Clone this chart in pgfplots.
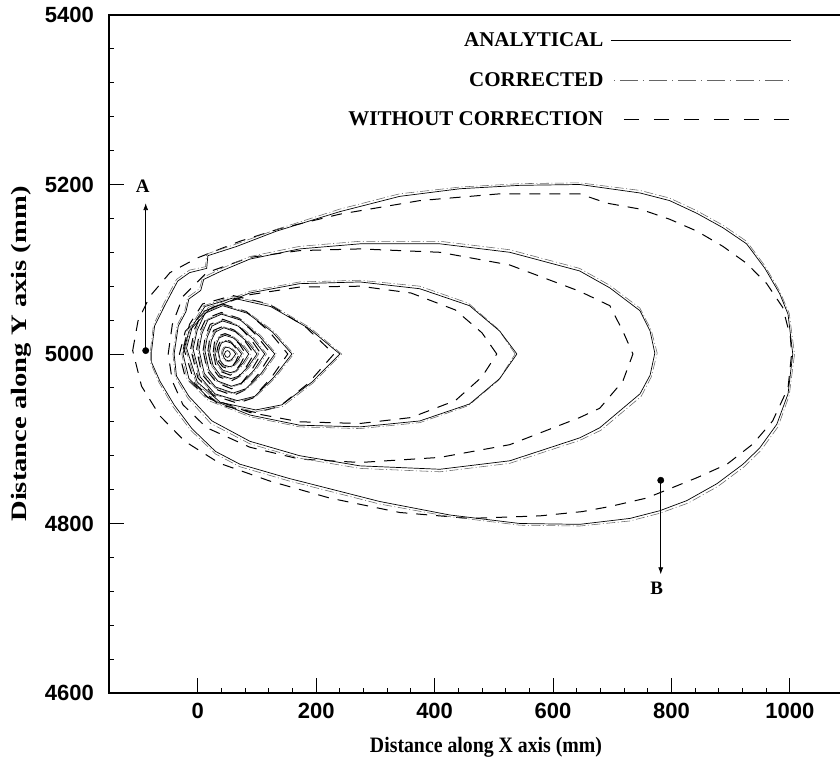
\documentclass[border=0pt]{standalone}
\usepackage{fontspec}
\setmainfont{Liberation Serif}
\newfontfamily\tickfam{Liberation Sans}
\usepackage{graphicx}
\usepackage{pgfplots}
\pgfplotsset{compat=1.18}
\usetikzlibrary{arrows.meta}
\pgfplotsset{
 an/.style={black, line width=0.7pt, solid, forget plot},
 co/.style={black!60, line width=0.55pt, dash pattern=on 9pt off 2.5pt on 1pt off 2.5pt, forget plot},
 wo/.style={black, line width=1.0pt, dash pattern=on 11pt off 9pt, forget plot},
}
\begin{document}
\begin{tikzpicture}
\useasboundingbox (-109pt,-66pt) rectangle (731pt,693pt);
\begin{axis}[
 at={(0pt,0pt)}, anchor=south west,
 scale only axis, width=740pt, height=678pt,
 xmin=-150, xmax=1100, ymin=4600, ymax=5400,
 axis line style={line width=1.5pt},
 xtick={0,200,...,1000}, ytick={4600,4800,...,5400},
 minor x tick num=4, minor y tick num=4,
 xtick pos=left, ytick pos=left,
 tick style={line width=0.9pt, black},
 major tick length=15pt, minor tick length=5pt,
 ticklabel style={font=\fontsize{22}{22}\selectfont\tickfam\bfseries},
 /pgf/number format/assume math mode=true,
 /pgf/number format/1000 sep={},
 yticklabel style={anchor=east, inner sep=0pt, xshift=-15pt},
 xticklabel style={anchor=north, inner sep=0pt, yshift=-10pt},
 xlabel={\scalebox{0.9}[1]{Distance along X axis (mm)}},
 ylabel={\scalebox{1.3}[1]{Distance along Y axis (mm)}},
 label style={font=\fontsize{22}{22}\selectfont\bfseries},
 xlabel style={at={(axis description cs:0.5095,-0.0649)}, anchor=north, inner sep=0pt},
 ylabel style={at={(axis description cs:-0.1041,0.5)}, anchor=south, inner sep=0pt, rotate=0},
 legend plot pos=right,
 legend cell align=right,
 legend style={at={(axis cs:1003,5379)}, anchor=north east, draw=none, fill=none,
   font=\fontsize{21}{21}\selectfont\bfseries, inner sep=0pt, row sep=24pt,
   nodes={inner sep=0pt},
   /tikz/every odd column/.append style={column sep=7pt}},
]
% ---------- legend ----------
\addlegendimage{legend image code/.code={\draw[black,line width=0.8pt] (0pt,0pt) -- (180pt,0pt);}}
\addlegendentry{ANALYTICAL}
\addlegendimage{legend image code/.code={\draw[black!60,line width=0.6pt,dash pattern=on 1pt off 5pt on 18pt off 5pt] (3pt,0pt) -- (180pt,0pt);}}
\addlegendentry{CORRECTED}
\addlegendimage{legend image code/.code={\draw[black,line width=1.1pt,dash pattern=on 15pt off 15pt] (13pt,0pt) -- (180pt,0pt);}}
\addlegendentry{WITHOUT CORRECTION}

% ---------- contour 1 ----------
\addplot[wo] coordinates {(-110,5004) (-101,5039) (-81,5068) (-47,5096) (-2,5113) (71,5133) (139,5148) (240,5165) (375,5181) (510,5189) (645,5189) (691,5178) (747,5171) (797,5159) (843,5145) (887,5127) (927,5107) (961,5083) (988,5055) (1001,5020) (1003,5000) (997,4960) (971,4921) (938,4894) (894,4870) (843,4854) (797,4841) (758,4830) (696,4820) (649,4814) (578,4809) (459,4806) (341,4813) (223,4830) (122,4850) (37,4871) (-22,4897) (-64,4927) (-95,4962) (-110,5004)};
\addplot[co] coordinates {(-80,5004) (-75,5034) (-58,5059) (-36,5088) (-14,5099) (13,5103) (15,5118) (66,5130) (133,5147) (240,5171) (341,5189) (443,5197) (544,5201) (645,5202) (747,5193) (797,5184) (843,5169) (887,5152) (927,5133) (958,5104) (983,5074) (999,5048) (1008,5000) (999,4951) (980,4914) (951,4886) (923,4867) (879,4844) (828,4824) (780,4812) (730,4803) (645,4797) (544,4798) (426,4808) (307,4823) (189,4844) (155,4850) (71,4867) (30,4882) (-12,4910) (-42,4938) (-66,4967) (-80,4990) (-80,5004)};
\addplot[an] coordinates {(-78,5004) (-73,5033) (-56,5057) (-34,5086) (-14,5096) (15,5101) (17,5116) (66,5127) (133,5145) (240,5168) (341,5186) (443,5195) (544,5199) (645,5200) (747,5190) (797,5181) (843,5166) (887,5149) (927,5130) (958,5101) (983,5071) (997,5047) (1005,5000) (997,4953) (978,4917) (949,4889) (921,4870) (877,4847) (826,4827) (780,4815) (730,4806) (645,4799) (544,4800) (426,4810) (307,4826) (189,4847) (155,4853) (71,4870) (30,4885) (-10,4912) (-40,4940) (-64,4968) (-78,4990) (-78,5004)};
% ---------- contour 2 ----------
\addplot[wo] coordinates {(-50,5000) (-43,5035) (-25,5068) (15,5096) (88,5114) (172,5122) (274,5124) (409,5120) (527,5105) (645,5074) (696,5057) (718,5027) (735,5000) (718,4968) (679,4936) (645,4925) (527,4893) (409,4878) (274,4872) (172,4876) (88,4890) (15,4913) (-25,4940) (-43,4968) (-50,5000)};
\addplot[co] coordinates {(-42,5000) (-35,5034) (-22,5051) (-17,5067) (3,5077) (8,5090) (40,5101) (88,5115) (172,5127) (274,5133) (409,5133) (527,5123) (645,5101) (696,5081) (747,5054) (766,5028) (776,5001) (766,4973) (749,4950) (681,4910) (645,4898) (527,4871) (409,4861) (274,4865) (172,4877) (88,4894) (22,4918) (-17,4948) (-38,4973) (-42,5000)};
\addplot[an] coordinates {(-40,5000) (-33,5033) (-20,5050) (-15,5065) (5,5075) (10,5088) (40,5098) (88,5112) (172,5124) (274,5130) (409,5130) (527,5120) (645,5098) (696,5078) (747,5051) (764,5027) (772,5001) (764,4975) (747,4953) (679,4913) (645,4901) (527,4874) (409,4864) (274,4868) (172,4880) (88,4897) (24,4921) (-15,4950) (-36,4974) (-40,5000)};
% ---------- contour 3 ----------
\addplot[wo] coordinates {(505,5000) (480,5025) (435,5052) (360,5072) (274,5080) (172,5079) (88,5070) (16,5053) (-21,5027) (-31,5000) (-21,4972) (16,4949) (88,4931) (172,4920) (274,4918) (360,4925) (435,4945) (480,4973) (505,5000)};
\addplot[co] coordinates {(536,5000) (508,5029) (457,5060) (375,5080) (274,5087) (172,5085) (88,5074) (18,5055) (-18,5028) (-27,5000) (-18,4970) (18,4945) (88,4926) (172,4914) (274,4912) (375,4919) (457,4939) (508,4969) (536,5000)};
\addplot[an] coordinates {(539,5000) (510,5027) (459,5057) (375,5077) (274,5085) (172,5083) (88,5072) (20,5053) (-15,5027) (-25,5000) (-15,4971) (20,4947) (88,4928) (172,4916) (274,4914) (375,4921) (459,4941) (510,4971) (539,5000)};
% ---------- contour 4 ----------
\addplot[wo] coordinates {(-24,5007) (-14,5035) (8,5059) (59,5069) (120,5059) (182,5032) (230,5000) (186,4965) (138,4938) (98,4931) (36,4940) (-5,4965) (-24,5007)};
\addplot[co] coordinates {(-21,5007) (-11,5034) (10,5057) (59,5068) (124,5058) (190,5031) (243,5000) (195,4966) (143,4938) (98,4932) (37,4941) (-3,4966) (-21,5007)};
\addplot[an] coordinates {(-19,5007) (-9,5033) (12,5056) (59,5066) (123,5056) (188,5030) (240,5000) (193,4967) (142,4940) (98,4934) (38,4943) (-1,4967) (-19,5007)};
% ---------- contour 5 ----------
\addplot[wo] coordinates {(-12,5006) (-5,5030) (9,5050) (42,5059) (82,5050) (120,5027) (152,5000) (124,4972) (93,4948) (67,4942) (27,4951) (0,4972) (-12,5006)};
\addplot[co] coordinates {(-10,5006) (-3,5029) (10,5049) (42,5058) (85,5049) (128,5027) (162,5000) (131,4972) (97,4949) (67,4944) (28,4952) (2,4972) (-10,5006)};
\addplot[an] coordinates {(-8,5006) (-1,5028) (12,5048) (42,5057) (84,5048) (126,5026) (159,5000) (129,4973) (96,4950) (67,4945) (29,4953) (4,4973) (-8,5006)};
% ---------- contour 6 ----------
\addplot[wo] coordinates {(-2,5005) (3,5026) (14,5042) (40,5049) (70,5042) (99,5022) (124,5000) (102,4976) (78,4957) (60,4951) (28,4959) (7,4976) (-2,5005)};
\addplot[co] coordinates {(0,5005) (5,5025) (16,5041) (40,5048) (73,5041) (106,5022) (133,5000) (109,4976) (82,4958) (60,4953) (29,4960) (9,4976) (0,5005)};
\addplot[an] coordinates {(2,5005) (7,5024) (17,5040) (40,5047) (72,5040) (104,5021) (130,5000) (107,4977) (81,4959) (60,4954) (30,4961) (11,4977) (2,5005)};
% ---------- contour 7 ----------
\addplot[wo] coordinates {(9,5004) (13,5022) (21,5035) (42,5041) (66,5035) (88,5019) (107,5000) (90,4980) (72,4964) (57,4959) (32,4966) (16,4980) (9,5004)};
\addplot[co] coordinates {(10,5004) (14,5021) (23,5034) (42,5040) (69,5034) (95,5019) (116,5000) (97,4980) (76,4965) (57,4961) (33,4967) (17,4980) (10,5004)};
\addplot[an] coordinates {(12,5004) (16,5020) (24,5033) (42,5039) (68,5033) (93,5018) (113,5000) (95,4981) (75,4966) (57,4962) (34,4968) (19,4981) (12,5004)};
% ---------- contour 8 ----------
\addplot[wo] coordinates {(17,5003) (20,5018) (27,5028) (44,5033) (62,5028) (80,5015) (95,5000) (82,4985) (67,4972) (56,4968) (36,4973) (23,4985) (17,5003)};
\addplot[co] coordinates {(18,5003) (21,5017) (29,5027) (44,5032) (65,5027) (86,5015) (103,5000) (88,4985) (71,4973) (56,4970) (37,4974) (24,4985) (18,5003)};
\addplot[an] coordinates {(20,5003) (23,5016) (30,5026) (44,5031) (64,5026) (84,5014) (100,5000) (86,4986) (70,4974) (56,4971) (38,4975) (26,4986) (20,5003)};
% ---------- contour 9 ----------
\addplot[wo] coordinates {(26,5002) (28,5013) (33,5021) (46,5024) (58,5021) (71,5011) (81,5000) (72,4988) (61,4978) (55,4975) (40,4979) (30,4988) (26,5002)};
\addplot[co] coordinates {(27,5002) (29,5012) (35,5020) (46,5023) (61,5020) (77,5011) (89,5000) (78,4988) (65,4979) (55,4977) (41,4980) (31,4988) (27,5002)};
\addplot[an] coordinates {(29,5002) (31,5011) (36,5019) (46,5022) (60,5019) (75,5010) (86,5000) (76,4989) (64,4980) (55,4978) (42,4981) (33,4989) (29,5002)};
% ---------- contour 10 ----------
\addplot[wo] coordinates {(32,5002) (34,5009) (38,5015) (47,5017) (55,5015) (63,5008) (70,5000) (64,4991) (57,4984) (53,4982) (42,4985) (35,4991) (32,5002)};
\addplot[co] coordinates {(34,5002) (36,5008) (39,5014) (47,5016) (57,5014) (68,5008) (77,5000) (69,4991) (60,4985) (53,4984) (43,4986) (37,4991) (34,5002)};
\addplot[an] coordinates {(35,5002) (37,5008) (40,5013) (47,5015) (56,5013) (66,5007) (74,5000) (67,4992) (59,4986) (53,4985) (44,4987) (38,4992) (35,5002)};
% ---------- contour 11 ----------
\addplot[co] coordinates {(40,5001) (41,5005) (44,5008) (49,5009) (55,5008) (62,5004) (67,5000) (62,4995) (57,4992) (52,4991) (46,4992) (42,4995) (40,5001)};
\addplot[an] coordinates {(42,5001) (43,5004) (45,5007) (49,5008) (54,5007) (60,5004) (64,5000) (60,4996) (56,4993) (52,4992) (47,4993) (44,4996) (42,5001)};
% ---------- centre ----------
\addplot[an] coordinates {(45,5000) (47,5003) (50,5004) (53,5003) (55,5000) (53,4997) (50,4996) (47,4997) (45,5000)};

% ---------- markers A and B ----------
\addplot[black, line width=0.8pt, -{Latex[length=7pt,width=5pt]}, forget plot] coordinates {(-88,5004) (-88,5178)};
\addplot[black, only marks, mark=*, mark size=3.2pt, forget plot] coordinates {(-88,5004)};
\addplot[black, line width=0.8pt, -{Latex[length=7pt,width=5pt]}, forget plot] coordinates {(782,4851) (782,4740)};
\addplot[black, only marks, mark=*, mark size=3.2pt, forget plot] coordinates {(782,4851)};
\node[font=\fontsize{19}{19}\selectfont\bfseries] at (axis cs:-93,5198) {A};
\node[font=\fontsize{19}{19}\selectfont\bfseries] at (axis cs:775,4724) {B};
\end{axis}
\end{tikzpicture}
\end{document}
